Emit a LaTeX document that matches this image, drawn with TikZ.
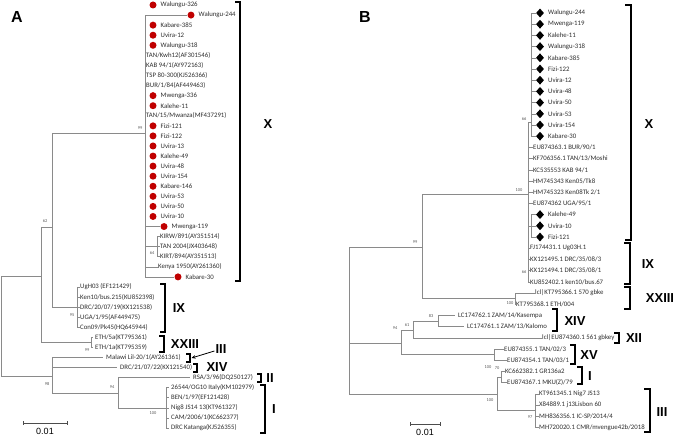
\documentclass[tikz,border=0pt]{standalone}
\usepackage{fontspec}
\setmainfont{Liberation Sans}
\newfontfamily\leaffont{Carlito}
\usetikzlibrary{shapes.geometric,arrows.meta}
\definecolor{brg}{HTML}{8A8A8A}
\definecolor{dotred}{HTML}{C00000}
\definecolor{lfc}{HTML}{2E2E2E}
\definecolor{bsc}{HTML}{555555}
\newcommand\ya[1]{5+10.07*#1}
\newcommand\yb[1]{13+11.2*#1}
\newcommand\lfontA{\leaffont\fontsize{6.8}{7}\selectfont}
\newcommand\lfontB{\leaffont\fontsize{6.8}{7}\selectfont}
\newcommand\bsfont{\leaffont\fontsize{4.4}{4.5}\selectfont}
\newcommand\clfont{\fontsize{13}{13}\selectfont\bfseries}
\tikzset{
  br/.style={draw=brg, line width=0.55pt},
  lfa/.style={font=\lfontA, anchor=west, inner sep=0pt, text=lfc},
  lfb/.style={font=\lfontB, anchor=west, inner sep=0pt, text=lfc},
  bsv/.style={font=\bsfont, inner sep=0pt, text=bsc},
  rdot/.style={circle, fill=dotred, minimum size=7pt, inner sep=0pt},
  bdia/.style={diamond, fill=black, minimum width=8pt, minimum height=9pt, inner sep=0pt},
  brk/.style={draw=black, line width=1.2pt},
  clab/.style={font=\clfont, inner sep=0pt},
  plab/.style={font=\fontsize{16}{16}\selectfont\bfseries, inner sep=0pt},
}
\begin{document}
\begin{tikzpicture}[x=1pt,y=-1pt]
\useasboundingbox (0,0) rectangle (685,436);
\fill[white] (0,0) rectangle (685,436);

% ================= PANEL A =================
\node[plab] (labA) at (17,17) {A};
\foreach \i/\t in {0/Walungu-326,2/Kabare-385,3/Uvira-12,4/Walungu-318,9/Mwenga-336,10/Kalehe-11,12/Fizi-121,13/Fizi-122,14/Uvira-13,15/Kalehe-49,16/Uvira-48,17/Uvira-154,18/Kabare-146,19/Uvira-53,20/Uvira-50,21/Uvira-10}{
  \node[rdot] (ad\i) at (153,{\ya{\i}}) {};
  \node[lfa] (a\i) at (160.5,{\ya{\i}}) {\t};
}
\node[rdot] (ad1) at (191,{\ya{1}}) {};
\node[lfa] (a1) at (198.5,{\ya{1}}) {Walungu-244};
\node[rdot] (ad22) at (164,{\ya{22}}) {};
\node[lfa] (a22) at (171.5,{\ya{22}}) {Mwenga-119};
\node[rdot] (ad27) at (178,{\ya{27}}) {};
\node[lfa] (a27) at (185.5,{\ya{27}}) {Kabare-30};
\node[lfa] (a5) at (146,{\ya{5}}) {TAN/Kwh12(AF301546)};
\node[lfa] (a6) at (146,{\ya{6}}) {KAB 94/1(AY972163)};
\node[lfa] (a7) at (146,{\ya{7}}) {TSP 80-300(KJ526366)};
\node[lfa] (a8) at (146,{\ya{8}}) {BUR/1/84(AF449463)};
\node[lfa] (a11) at (146,{\ya{11}}) {TAN/15/Mwanza(MF437291)};
\node[lfa] (a23) at (160,{\ya{23}}) {KIRW/891(AY351514)};
\node[lfa] (a24) at (160,{\ya{24}}) {TAN 2004(JX403648)};
\node[lfa] (a25) at (160,{\ya{25}}) {KIRT/894(AY351513)};
\node[lfa] (a26) at (158,{\ya{26}}) {Kenya 1950(AY261360)};
\node[lfa] (a28) at (80,{\ya{28}}) {UgH03 (EF121429)};
\node[lfa] (a29) at (80,{\ya{29}}) {Ken10/bus.215(KU852398)};
\node[lfa] (a30) at (80,{\ya{30}}) {DRC/20/07/19(KX121538)};
\node[lfa] (a31) at (80,{\ya{31}}) {UGA/1/95(AF449475)};
\node[lfa] (a32) at (80,{\ya{32}}) {Con09/Pk45(HQ645944)};
\node[lfa] (a33) at (95,{\ya{33}}) {ETH/5a(KT795361)};
\node[lfa] (a34) at (95,{\ya{34}}) {ETH/1a(KT795359)};
\node[lfa] (a35) at (106,{\ya{35}}) {Malawi Lil-20/1(AY261361)};
\node[lfa] (a36) at (120,{\ya{36}}) {DRC/21/07/22(KX121540)};
\node[lfa] (a37) at (193,{\ya{37}}) {RSA/3/96(DQ250127)};
\node[lfa] (a38) at (171,{\ya{38}}) {26544/OG10 Italy(KM102979)};
\node[lfa] (a39) at (171,{\ya{39}}) {BEN/1/97(EF121428)};
\node[lfa] (a40) at (171,{\ya{40}}) {Nig8 JS14 13(KT961327)};
\node[lfa] (a41) at (171,{\ya{41}}) {CAM/2006/1(KC662377)};
\node[lfa] (a42) at (171,{\ya{42}}) {DRC Katanga(KJ526355)};

\coordinate (rootA) at (1,276);
\coordinate (nA1) at (41,276);
\coordinate (nA2) at (52,227);
\coordinate (nX) at (145,133);
\coordinate (nIX) at (77,{\ya{30}});
\coordinate (nETH) at (91,{\ya{33.5}});
\coordinate (nB2) at (52,376);
\coordinate (nB3) at (118,393);
\coordinate (nI) at (166,{\ya{40}});

\draw[br] (1,276) -- (1,376);
\draw[br] (rootA) -- (nA1);
\draw[br] (41,227) -- (41,{\ya{33.5}});
\draw[br] (41,227) -- (nA2);
\draw[br] (52,133) -- (52,{\ya{30}});
\draw[br] (52,133) -- (nX);
\draw[br] (145,{\ya{1}}) -- (145,{\ya{27}});
\draw[br] (145,{\ya{1}}) -- (ad1.west);
\draw[br] (145,{\ya{22}}) -- (ad22.west);
\draw[br] (145,{\ya{24}}) -- (157,{\ya{24}});
\draw[br] (157,{\ya{23}}) -- (157,{\ya{25}});
\foreach \i in {23,24,25}{\draw[br] (157,{\ya{\i}}) -- (a\i.west);}
\draw[br] (145,{\ya{26}}) -- (a26.west);
\draw[br] (145,{\ya{27}}) -- (ad27.west);
\draw[br] (52,{\ya{30}}) -- (nIX);
\draw[br] (77,{\ya{28}}) -- (77,{\ya{32}});
\foreach \i in {28,...,32}{\draw[br] (77,{\ya{\i}}) -- (a\i.west);}
\draw[br] (41,{\ya{33.5}}) -- (nETH);
\draw[br] (91,{\ya{33}}) -- (91,{\ya{34}});
\foreach \i in {33,34}{\draw[br] (91,{\ya{\i}}) -- (93,{\ya{\i}});}
\draw[br] (1,376) -- (nB2);
\draw[br] (52,{\ya{35}}) -- (52,393);
\draw[br] (52,{\ya{35}}) -- (103,{\ya{35}});
\draw[br] (52,{\ya{36}}) -- (117,{\ya{36}});
\draw[br] (52,393) -- (nB3);
\draw[br] (118,{\ya{37}}) -- (118,{\ya{40}});
\draw[br] (118,{\ya{37}}) -- (190,{\ya{37}});
\draw[br] (118,{\ya{40}}) -- (nI);
\draw[br] (166,{\ya{38}}) -- (166,{\ya{42}});
\foreach \i in {38,...,42}{\draw[br] (166,{\ya{\i}}) -- (169,{\ya{\i}});}

\node[bsv] at (140,128) {99};
\node[bsv] at (45,221) {62};
\node[bsv] at (72,315) {95};
\node[bsv] at (152,253) {64};
\node[bsv] at (87,350) {99};
\node[bsv] at (47,384) {98};
\node[bsv] at (112,387) {94};
\node[bsv] at (153,413) {100};

\draw[brk] (235,2) -- (240,2) -- (240,281) -- (235,281);
\node[clab] (cAX) at (268,124) {X};
\draw[brk] (160,284) -- (165,284) -- (165,332) -- (160,332);
\node[clab] (cAIX) at (179,308) {IX};
\draw[brk] (159,336) -- (164,336) -- (164,352) -- (159,352);
\node[clab] (cAXXIII) at (185,344) {XXIII};
\draw[brk] (186,354) -- (190,354) -- (190,362) -- (186,362);
\node[clab] (cAIII) at (221,349) {III};
\coordinate (arA) at (191.5,358);
\draw[line width=0.8pt,-{Stealth[length=4pt,width=3.5pt]}] (cAIII.west) ++(-1,2) -- (arA);
\draw[brk] (193,364) -- (197,364) -- (197,372) -- (193,372);
\node[clab] (cAXIV) at (217,367) {XIV};
\draw[brk] (257,374) -- (261,374) -- (261,382) -- (257,382);
\node[clab] (cAII) at (270,378) {II};
\draw[brk] (260,385) -- (265,385) -- (265,433) -- (260,433);
\node[clab] (cAI) at (274,409) {I};

\draw[br, draw=black!70] (23,423) -- (67,423);
\draw[br, draw=black!70] (23,421) -- (23,425);
\draw[br, draw=black!70] (67,421) -- (67,425);
\node[font=\fontsize{9}{9}\selectfont, inner sep=0pt] (sA) at (45,431) {0.01};

% ================= PANEL B =================
\node[plab] (labB) at (365,17) {B};
\foreach \i/\t in {0/Walungu-244,1/Mwenga-119,2/Kalehe-11,3/Walungu-318,4/Kabare-385,5/Fizi-122,6/Uvira-12,7/Uvira-48,8/Uvira-50,9/Uvira-53,10/Uvira-154,11/Kabare-30,18/Kalehe-49,19/Uvira-10,20/Fizi-121}{
  \node[bdia] (bd\i) at (540,{\yb{\i}}) {};
  \node[lfb] (b\i) at (548,{\yb{\i}}) {\t};
}
\node[lfb] (b12) at (533,{\yb{12}}) {EU874363.1 BUR/90/1};
\node[lfb] (b13) at (533,{\yb{13}}) {KF706356.1 TAN/13/Moshi};
\node[lfb] (b14) at (533,{\yb{14}}) {KC535553 KAB 94/1};
\node[lfb] (b15) at (533,{\yb{15}}) {HM745343 Ken05/Tk8};
\node[lfb] (b16) at (533,{\yb{16}}) {HM745323 Ken08Tk 2/1};
\node[lfb] (b17) at (533,{\yb{17}}) {EU874362 UGA/95/1};
\node[lfb] (b21) at (530,{\yb{21}}) {FJ174431.1 Ug03H.1};
\node[lfb] (b22) at (530,{\yb{22}}) {KX121495.1 DRC/35/08/3};
\node[lfb] (b23) at (530,{\yb{23}}) {KX121494.1 DRC/35/08/1};
\node[lfb] (b24) at (530,{\yb{24}}) {KU852402.1 ken10/bus.67};
\node[lfb] (b25) at (535,{\yb{25}}) {lcl|KT795366.1 570 gbke};
\node[lfb] (b26) at (516,{\yb{26}}) {KT795368.1 ETH/004};
\node[lfb] (b27) at (458,{\yb{27}}) {LC174762.1 ZAM/14/Kasempa};
\node[lfb] (b28) at (467,{\yb{28}}) {LC174761.1 ZAM/13/Kalomo};
\node[lfb] (b29) at (542,{\yb{29}}) {lcl|EU874360.1 561 gbkey};
\node[lfb] (b30) at (504,{\yb{30}}) {EU874355.1 TAN/02/3};
\node[lfb] (b31) at (507,{\yb{31}}) {EU874354.1 TAN/03/1};
\node[lfb] (b32) at (505,{\yb{32}}) {KC662382.1 GR136a2};
\node[lfb] (b33) at (507,{\yb{33}}) {EU874367.1 MKU(Z)/79};
\node[lfb] (b34) at (539,{\yb{34}}) {KT961345.1 Nig7 JS13};
\node[lfb] (b35) at (539,{\yb{35}}) {X84889.1 j13Lisbon 60};
\node[lfb] (b36) at (539,{\yb{36}}) {MH836356.1 IC-SP/2014/4};
\node[lfb] (b37) at (539,{\yb{37}}) {MH720020.1 CMR/mvengue42b/2018};

\coordinate (rootB) at (349,247);
\coordinate (nB422) at (422,247);
\coordinate (nBX) at (528,194);
\coordinate (nBX1) at (531,122);
\coordinate (nBX2) at (531,{\yb{19}});
\coordinate (nBXXIII) at (515,{\yb{25.5}});
\coordinate (nB401) at (401,343);
\coordinate (nB413) at (413,330);
\coordinate (nB438) at (438,{\yb{27.5}});
\coordinate (nBXV) at (494,{\yb{30.5}});
\coordinate (nB497) at (497,394);
\coordinate (nBI) at (501,{\yb{32.5}});
\coordinate (nBIII) at (535,{\yb{35.5}});

\draw[br] (349,247) -- (349,394);
\draw[br] (rootB) -- (nB422);
\draw[br] (422,194) -- (422,{\yb{25.5}});
\draw[br] (422,194) -- (nBX);
\draw[br] (528,122) -- (528,{\yb{24}});
\draw[br] (528,122) -- (nBX1);
\draw[br] (531,{\yb{0}}) -- (531,{\yb{11}});
\foreach \i in {0,...,11}{\draw[br] (531,{\yb{\i}}) -- (bd\i.west);}
\foreach \i in {12,...,17}{\draw[br] (528,{\yb{\i}}) -- (b\i.west);}
\draw[br] (528,{\yb{19}}) -- (nBX2);
\draw[br] (531,{\yb{18}}) -- (531,{\yb{20}});
\foreach \i in {18,19,20}{\draw[br] (531,{\yb{\i}}) -- (bd\i.west);}
\foreach \i in {21,...,24}{\draw[br] (528,{\yb{\i}}) -- (b\i.west);}
\draw[br] (422,{\yb{25.5}}) -- (nBXXIII);
\draw[br] (515,{\yb{25}}) -- (515,{\yb{26}});
\draw[br] (515,{\yb{25}}) -- (b25.west);
\draw[br] (515,{\yb{26}}) -- (b26.west);
\draw[br] (349,343) -- (nB401);
\draw[br] (401,330) -- (401,{\yb{30.5}});
\draw[br] (401,330) -- (nB413);
\draw[br] (413,{\yb{27.5}}) -- (413,{\yb{29}});
\draw[br] (413,{\yb{27.5}}) -- (nB438);
\draw[br] (438,{\yb{27}}) -- (438,{\yb{28}});
\draw[br] (438,{\yb{27}}) -- (455,{\yb{27}});
\draw[br] (438,{\yb{28}}) -- (464,{\yb{28}});
\draw[br] (413,{\yb{29}}) -- (b29.west);
\draw[br] (401,{\yb{30.5}}) -- (nBXV);
\draw[br] (494,{\yb{30}}) -- (494,{\yb{31}});
\draw[br] (494,{\yb{30}}) -- (b30.west);
\draw[br] (494,{\yb{31}}) -- (b31.west);
\draw[br] (349,394) -- (nB497);
\draw[br] (497,{\yb{32.5}}) -- (497,{\yb{35.5}});
\draw[br] (497,{\yb{32.5}}) -- (nBI);
\draw[br] (501,{\yb{32}}) -- (501,{\yb{33}});
\draw[br] (501,{\yb{32}}) -- (b32.west);
\draw[br] (501,{\yb{33}}) -- (b33.west);
\draw[br] (497,{\yb{35.5}}) -- (nBIII);
\draw[br] (535,{\yb{34}}) -- (535,{\yb{37}});
\foreach \i in {34,...,37}{\draw[br] (535,{\yb{\i}}) -- (b\i.west);}

\node[bsv] at (415,242) {99};
\node[bsv] at (519,190) {100};
\node[bsv] at (524,119) {66};
\node[bsv] at (524,272) {66};
\node[bsv] at (510,303) {100};
\node[bsv] at (431,316) {83};
\node[bsv] at (407,325) {61};
\node[bsv] at (395,328) {94};
\node[bsv] at (488,367) {100};
\node[bsv] at (497,368) {70};
\node[bsv] at (490,400) {100};
\node[bsv] at (530,417) {97};

\draw[brk] (625,5) -- (631,5) -- (631,240) -- (625,240);
\node[clab] (cBX) at (649,124) {X};
\draw[brk] (624,243) -- (630,243) -- (630,284) -- (624,284);
\node[clab] (cBIX) at (648,264) {IX};
\draw[brk] (624,287) -- (630,287) -- (630,309) -- (624,309);
\node[clab] (cBXXIII) at (660,298) {XXIII};
\draw[brk] (552,309) -- (557,309) -- (557,331) -- (552,331);
\node[clab] (cBXIV) at (575,321) {XIV};
\draw[brk] (614,333) -- (619,333) -- (619,343) -- (614,343);
\node[clab] (cBXII) at (634,338) {XII};
\draw[brk] (570,345) -- (575,345) -- (575,364) -- (570,364);
\node[clab] (cBXV) at (589,355) {XV};
\draw[brk] (577,367) -- (582,367) -- (582,384) -- (577,384);
\node[clab] (cBI) at (590,376) {I};
\draw[brk] (644,389) -- (650,389) -- (650,432) -- (644,432);
\node[clab] (cBIII) at (662,412) {III};

\draw[br, draw=black!70] (410,424) -- (440,424);
\draw[br, draw=black!70] (410,422) -- (410,426);
\draw[br, draw=black!70] (440,422) -- (440,426);
\node[font=\fontsize{9}{9}\selectfont, inner sep=0pt] (sB) at (425,432) {0.01};
\end{tikzpicture}
\end{document}
